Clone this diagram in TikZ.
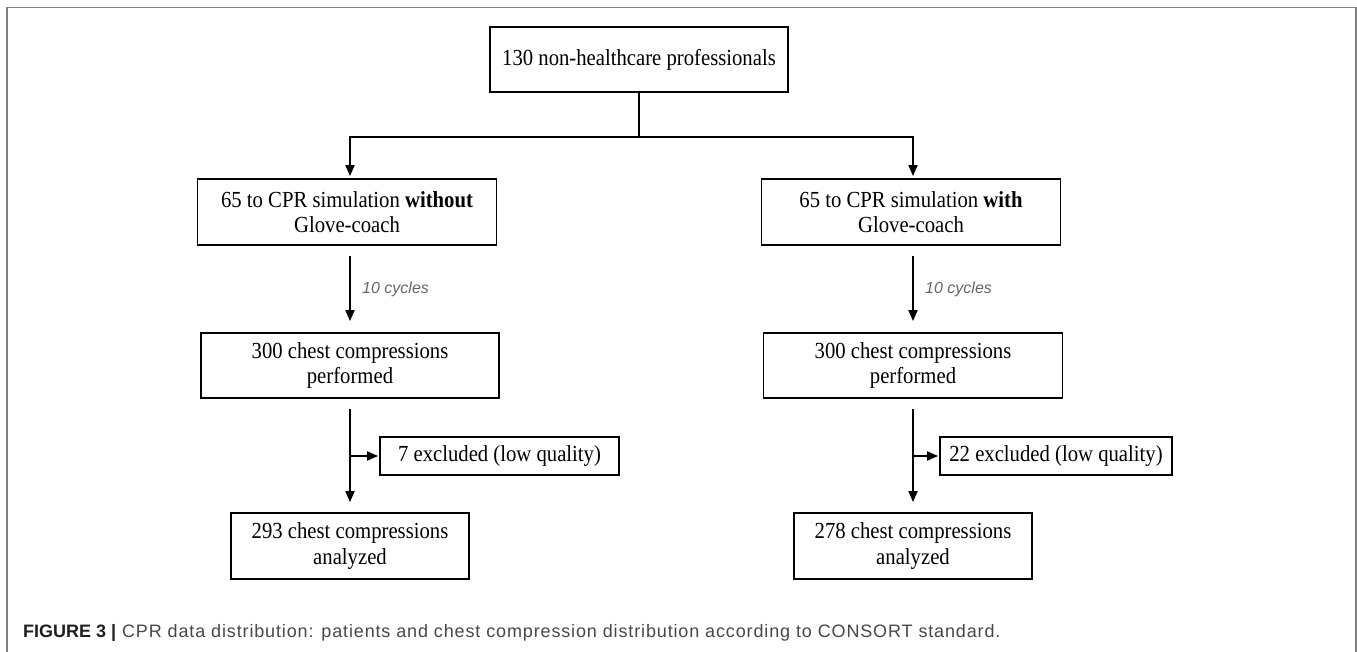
\documentclass[tikz,border=0pt]{standalone}
\usepackage{fontspec}
\setmainfont{Liberation Serif}
\setsansfont{Liberation Sans}
\newfontfamily\boxfont[FakeStretch=0.9]{Liberation Serif}
\newfontfamily\capfont[LetterSpace=4.8]{Liberation Sans}
\usetikzlibrary{arrows.meta}
\tikzset{
	box/.style={rectangle, draw=black, line width=1.8pt, align=center, inner sep=0pt, font=\boxfont\fontsize{23}{25}\selectfont},
	flow/.style={-{Triangle[length=11pt,width=9pt]}, line width=1.8pt},
}
\begin{document}
\begin{tikzpicture}[x=1pt, y=-1pt]
		% frame and bounding box
		\useasboundingbox (0,0) rectangle (1357,652);
		\draw[line width=1.8pt, color=black!50] (7,652) -- (7,7.5) -- (1356,7.5) -- (1356,652);
		% boxes
		\node[box, minimum width=298pt, minimum height=65pt](total) at (639,59.5){130 non-healthcare professionals};
		\node[box, minimum width=299pt, minimum height=66pt](noGlove) at (347,212){65 to CPR simulation \textbf{without}\\Glove-coach};
		\node[box, minimum width=299pt, minimum height=66pt](withGlove) at (911,212){65 to CPR simulation \textbf{with}\\Glove-coach};
		\node[box, minimum width=298pt, minimum height=65pt](perfL) at (350,365.5){300 chest compressions\\performed};
		\node[box, minimum width=299pt, minimum height=65pt](perfR) at (913,365.5){300 chest compressions\\performed};
		\node[box, minimum width=239pt, minimum height=38pt](exclL) at (499.5,456){7 excluded (low quality)};
		\node[box, minimum width=232pt, minimum height=38pt](exclR) at (1056,456){22 excluded (low quality)};
		\node[box, minimum width=238pt, minimum height=66pt](anaL) at (350,546){293 chest compressions\\analyzed};
		\node[box, minimum width=238pt, minimum height=66pt](anaR) at (913,546){278 chest compressions\\analyzed};
		\coordinate (split) at (639,137);
		\coordinate (branchL) at (350,456);
		\coordinate (branchR) at (913,456);
		% connectors
		\draw [line width=1.8pt] (total.south) -- (split);
		\draw [flow, shorten >=2pt] (split) -| (perfL.north |- noGlove.north);
		\draw [flow, shorten >=2pt] (split) -| (perfR.north |- withGlove.north);
		\draw [flow, shorten <=10pt, shorten >=11pt] (perfL.north |- noGlove.south) -- node[right=8pt, midway, font=\sffamily\itshape\fontsize{16}{19}\selectfont, text=black!60]{10 cycles}(perfL.north);
		\draw [flow, shorten <=10pt, shorten >=11pt] (perfR.north |- withGlove.south) -- node[right=8pt, midway, font=\sffamily\itshape\fontsize{16}{19}\selectfont, text=black!60]{10 cycles}(perfR.north);
		\draw [flow, shorten <=10pt, shorten >=10pt] (perfL.south) -- (anaL.north);
		\draw [flow, shorten <=10pt, shorten >=10pt] (perfR.south) -- (anaR.north);
		\draw [flow, shorten >=1pt] (branchL) -- (exclL.west);
		\draw [flow, shorten >=1pt] (branchR) -- (exclR.west);
		% caption
		\node[anchor=base west, inner sep=0pt, font=\capfont\fontsize{18}{21}\selectfont, text=black!72](caption) at (23,637){{\sffamily\bfseries\color{black!88}FIGURE 3 |} CPR data distribution: patients and chest compression distribution according to CONSORT standard.};
	\end{tikzpicture}
\end{document}
